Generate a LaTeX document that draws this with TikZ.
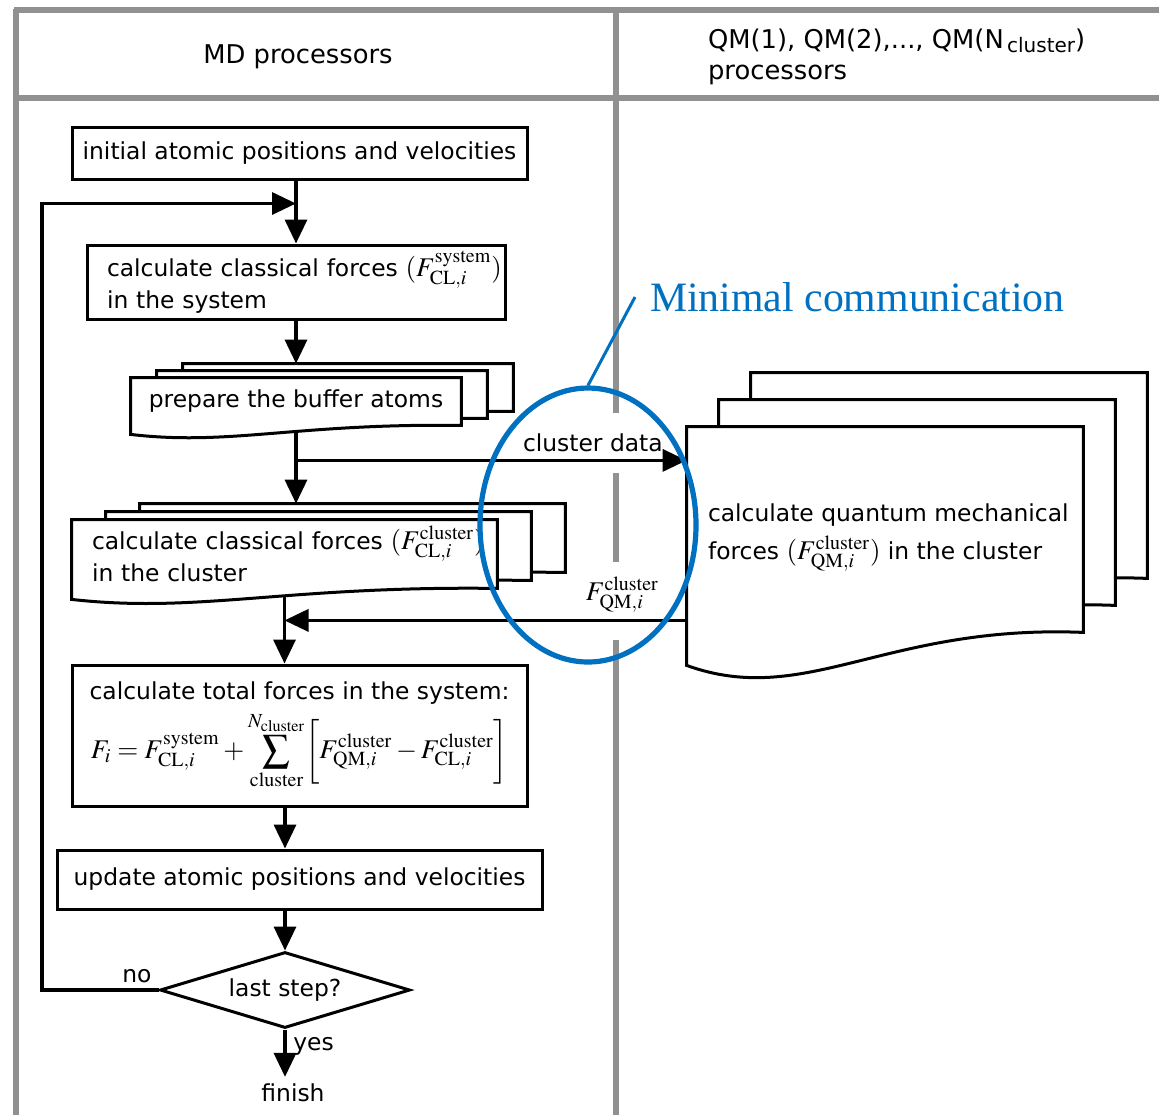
\documentclass[tikz,border=0pt]{standalone}
\usepackage{mathptmx}
\usepackage[no-math]{fontspec}
\setmainfont{DejaVu Sans}
\newfontfamily\calloutfont{Liberation Serif}
\usetikzlibrary{arrows.meta, shapes.geometric, backgrounds, calc}

\definecolor{framegray}{RGB}{145,145,145}
\definecolor{noteblue}{RGB}{0,112,192}

\tikzset{
  box/.style={draw, line width=1.5pt, inner sep=0pt},
  docnode/.style={inner sep=0pt},
  docline/.style={draw=black, fill=white, line width=1.5pt},
  arr/.style={line width=1.7pt, -{Triangle[length=12pt,width=11pt]}},
  lane/.style={draw=framegray, line width=2.8pt},
}

% force symbol, set a little larger than the text
\newcommand{\force}[2]{{\fontsize{13.5}{14}\selectfont$F^{\mathrm{#1}}_{\mathrm{#2},i}$}}
\newcommand{\pforce}[2]{{\fontsize{13.5}{14}\selectfont$(F^{\mathrm{#1}}_{\mathrm{#2},i})$}}

% one page of a stacked document symbol, drawn round a node
\newcommand{\docpage}[4]{%
  \path[docline]
    ($(#1.north west)+#2*#3$) -- ($(#1.north east)+#2*#3$)
    -- ($(#1.south east)+#2*#3$)
    .. controls ($(#1.south east)!0.5!(#1.south west)+#2*#3+(0,0.25*#4)$)
    and ($(#1.south east)!0.7!(#1.south west)+#2*#3+(0,-2.3*#4)$)
    .. ($(#1.south west)+#2*#3+(0,-#4)$) -- cycle;}
\newcommand{\docstack}[3]{\docpage{#1}{2}{#2}{#3}\docpage{#1}{1}{#2}{#3}\docpage{#1}{0}{#2}{#3}}

\begin{document}
\begin{tikzpicture}[x=0.5pt, y=-0.5pt, font=\fontsize{11.7}{14}\selectfont]
\useasboundingbox (0,0) rectangle (1159,1115);

% headers
\node[font=\fontsize{12.9}{15}\selectfont] (mdhead) at (298,57) {MD processors};
\node[anchor=west, align=left, font=\fontsize{12.9}{15.5}\selectfont] (qmhead) at (701,57)
  {QM(1), QM(2),..., QM(N{\fontsize{10}{10}\selectfont\raisebox{-0.35ex}{\,cluster}})\\processors};

% MD processors
\node[box, minimum width=227.5pt, minimum height=26pt] (init) at (299.5,153)
  {initial atomic positions and velocities};
\node[box, text width=189pt, inner xsep=10pt, minimum height=37pt, align=left] (sys) at (296,282)
  {\rlap{calculate classical forces \pforce{system}{CL}}\\in the system};
\node[docnode, minimum width=165pt, minimum height=23.5pt] (buf) at (296,401.5)
  {prepare the buffer atoms};
\node[docnode, text width=192.5pt, inner xsep=10pt, minimum height=34pt, align=left] (clu) at (284.5,554)
  {\rlap{calculate classical forces \pforce{cluster}{CL}}\\in the cluster};
\node[box, minimum width=227.5pt, minimum height=70.5pt, align=center] (total) at (299.5,735.5)
  {calculate total forces in the system:\\[3pt]
   {\fontsize{13.5}{14}\selectfont
   $\displaystyle F_i = F^{\mathrm{system}}_{\mathrm{CL},i} + \sum_{\mathrm{cluster}}^{N_{\mathrm{cluster}}}
   \biggl[F^{\mathrm{cluster}}_{\mathrm{QM},i} - F^{\mathrm{cluster}}_{\mathrm{CL},i}\biggr]$}};
\node[box, minimum width=242.5pt, minimum height=29.5pt] (upd) at (299.5,879.5)
  {update atomic positions and velocities};
\node[draw, diamond, line width=1.5pt, aspect=3.3, minimum width=125pt, minimum height=38pt, inner sep=1pt] (dec) at (285,990)
  {last step?};
\node (finish) at (293,1093) {finish};
\node[above left] (nolabel) at (dec.west) {no};

% QM processors
\node[docnode, minimum width=198pt, minimum height=102.5pt] (qm) at (885,529.5) {};
\node[anchor=west, align=left, inner sep=0pt, font=\fontsize{11.7}{19}\selectfont] (qmtext)
  at ([xshift=10.5pt, yshift=-4pt]qm.west)
  {calculate quantum mechanical\\forces \pforce{cluster}{QM} in the cluster};

% callout
\node[ellipse, draw=noteblue, line width=2.6pt, minimum width=108pt, minimum height=137pt, inner sep=0pt] (ell) at (588,525) {};
\node[anchor=west, text=noteblue, font=\calloutfont\fontsize{20.9}{24}\selectfont] (mc) at (643,297)
  {Minimal communication};
\draw[noteblue, line width=1.5pt] (ell.north) -- ([xshift=-4pt]mc.west);

\begin{scope}[on background layer]
  % lanes
  \draw[lane] (14,10) -- (1159,10);
  \draw[lane] (14,98) -- (1159,98);
  \draw[lane] (16,8.6) -- (16,1115);
  \draw[lane] (616,8.6) -- (616,413);
  \draw[lane] (616,473) -- (616,562);
  \draw[lane] (616,640) -- (616,1115);

  \coordinate (join) at ([yshift=20pt]sys.north);
  \coordinate (back) at (42,990);
  \coordinate (split) at ([yshift=-17.5pt]buf.south);
  \coordinate (clutop) at ([yshift=8pt]clu.north);
  \coordinate (merge) at ([yshift=6pt]qm.south west);

  \draw[arr] (sys.north |- init.south) -- (sys.north);
  \draw[arr] (dec.west) -- (back) |- (join);
  \draw[arr] (sys.south) -- ([yshift=7pt]buf.north);
  \draw[arr] (buf.south) -- (buf.south |- clutop);
  \draw[arr] (split) -- (split -| qm.west) node[pos=0.76, above] {cluster data};
  \draw[arr] (clu.south) -- (clu.south |- total.north);
  \draw[arr] (merge) -- (merge -| clu.south)
    node[pos=0.16, above] {\force{cluster}{QM}};
  \draw[arr] (dec.north |- total.south) -- (dec.north |- upd.north);
  \draw[arr] (dec.north |- upd.south) -- (dec.north);
  \draw[arr] (dec.south) -- (dec.south |- finish.north) node[pos=0.35, right] {yes};

  % document stacks
  \docstack{buf}{(13pt,3.5pt)}{4.5pt}
  \docstack{clu}{(17pt,4pt)}{5.5pt}
  \docstack{qm}{(16pt,13.5pt)}{16.5pt}
\end{scope}
\end{tikzpicture}
\end{document}
